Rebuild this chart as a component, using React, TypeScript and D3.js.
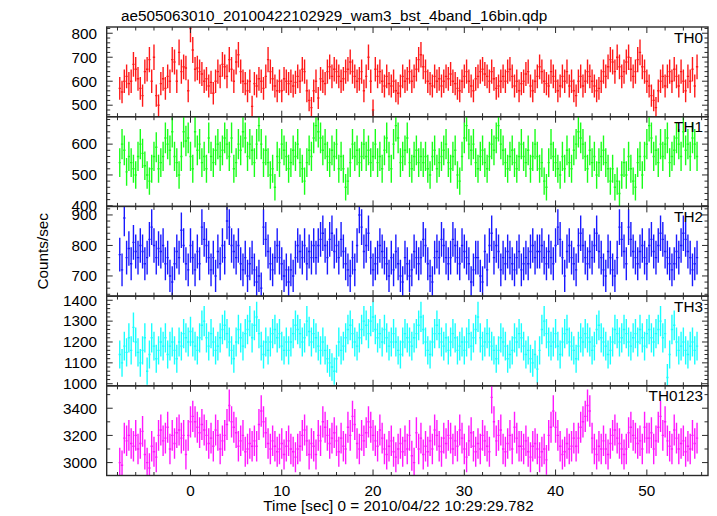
import React from "react";
import * as d3 from "d3";

const TITLE = "ae505063010_20100422102929_wam3_bst_4band_16bin.qdp";
const X_LABEL = "Time [sec] 0 = 2010/04/22 10:29:29.782";
const Y_LABEL = "Counts/sec";
const BIN = 0.25; // seconds per bin
const T_FIRST = -7.75; // centre of first bin (s)

const PANEL_NAMES = ["TH0", "TH1", "TH2", "TH3", "TH0123"];
const PANEL_COLORS = ["#ff0000", "#00ff00", "#0000ff", "#00ffff", "#ff00ff"];
const X_DOMAIN: [number, number] = [-9.18, 56.7];
const X_MAJOR = [0, 10, 20, 30, 40, 50];
const X_MINOR_STEP = 2;

const Y_DOMAINS: [number, number][] = [
  [452, 826],
  [398, 689],
  [634, 928],
  [990, 1420],
  [2905, 3565],
];
const Y_MAJOR: number[][] = [
  [500, 600, 700, 800],
  [400, 500, 600],
  [700, 800, 900],
  [1000, 1100, 1200, 1300, 1400],
  [3000, 3200, 3400],
];
const Y_MINOR_STEP = [20, 20, 20, 20, 100];

const th0 = [
  570, 555, 600, 620, 590, 600, 670, 650, 610, 570, 540, 640, 650, 690, 600, 700,
  540, 500, 590, 610, 570, 620, 600, 690, 680, 600, 720, 640, 660, 655, 560, 820,
  730, 650, 655, 640, 630, 600, 610, 580, 595, 550, 600, 640, 620, 670, 660, 620,
  690, 650, 600, 680, 710, 640, 600, 590, 560, 600, 495, 590, 580, 610, 600, 570,
  620, 690, 640, 610, 580, 560, 600, 560, 610, 600, 590, 600, 580, 595, 620, 600,
  650, 640, 560, 520, 490, 560, 600, 530, 610, 600, 590, 640, 660, 620, 650, 640,
  620, 600, 610, 640, 650, 680, 640, 620, 600, 610, 640, 560, 620, 700, 600, 480,
  650, 620, 640, 600, 580, 620, 590, 580, 600, 560, 550, 580, 620, 600, 610, 640,
  600, 620, 650, 690, 710, 660, 640, 600, 590, 580, 620, 600, 610, 580, 600, 620,
  610, 630, 600, 590, 570, 560, 600, 620, 640, 600, 580, 560, 610, 620, 640, 650,
  630, 620, 600, 640, 610, 570, 580, 600, 620, 600, 640, 650, 620, 580, 600, 560,
  590, 600, 630, 640, 580, 560, 600, 620, 660, 640, 600, 590, 580, 640, 620, 600,
  560, 580, 620, 600, 640, 580, 600, 560, 540, 600, 620, 580, 600, 640, 620, 600,
  580, 560, 570, 600, 640, 620, 660, 690, 680, 640, 700, 660, 620, 640, 680, 700,
  650, 620, 640, 690, 720, 660, 640, 600, 580, 540, 520, 490, 560, 600, 620, 580,
  620, 640, 600, 650, 620, 580, 640, 600, 560, 620, 600, 650, 580, 660,
];

const th1 = [
  540, 600, 580, 510, 560, 540, 520, 500, 560, 600, 570, 530, 500, 480, 520, 560,
  590, 520, 540, 560, 620, 600, 580, 640, 560, 540, 500, 560, 640, 610, 620, 560,
  520, 640, 580, 600, 540, 560, 520, 620, 560, 540, 580, 600, 560, 580, 620, 600,
  560, 620, 520, 540, 600, 580, 640, 620, 560, 600, 580, 540, 600, 660, 600, 540,
  580, 540, 500, 520, 460, 560, 540, 600, 580, 560, 520, 540, 580, 560, 600, 540,
  520, 480, 540, 580, 560, 620, 660, 640, 620, 580, 600, 560, 540, 580, 560, 600,
  520, 560, 520, 460, 480, 540, 600, 560, 580, 540, 560, 600, 560, 580, 540, 560,
  600, 540, 560, 520, 580, 620, 560, 520, 600, 660, 620, 540, 560, 580, 620, 540,
  520, 560, 580, 540, 560, 540, 560, 520, 500, 560, 580, 520, 540, 560, 580, 600,
  540, 520, 560, 580, 500, 480, 560, 620, 660, 600, 580, 600, 540, 520, 560, 580,
  540, 520, 560, 600, 580, 620, 660, 600, 580, 540, 520, 560, 580, 540, 520, 560,
  600, 560, 540, 580, 520, 560, 600, 560, 520, 540, 480, 460, 540, 600, 560, 540,
  520, 500, 560, 520, 580, 540, 520, 580, 600, 640, 620, 600, 560, 520, 580, 540,
  560, 500, 540, 560, 580, 540, 520, 480, 520, 460, 480, 440, 500, 540, 500, 560,
  520, 480, 460, 540, 560, 500, 560, 600, 660, 620, 560, 580, 540, 600, 560, 600,
  620, 540, 560, 580, 620, 600, 560, 640, 580, 600, 560, 620, 600, 560,
];

const th2 = [
  770, 720, 890, 760, 790, 740, 810, 780, 760, 800, 780, 740, 760, 820, 860, 800,
  760, 790, 780, 800, 740, 760, 700, 680, 740, 780, 760, 850, 800, 740, 720, 800,
  760, 720, 780, 740, 860, 820, 800, 760, 720, 760, 700, 780, 740, 800, 760, 880,
  860, 800, 780, 760, 800, 740, 720, 760, 700, 740, 760, 720, 680, 700, 660, 860,
  820, 780, 740, 720, 760, 800, 760, 740, 700, 720, 680, 720, 700, 760, 800, 780,
  760, 800, 740, 780, 760, 800, 760, 800, 820, 840, 800, 760, 820, 840, 780, 800,
  760, 820, 780, 740, 720, 700, 760, 720, 800, 900, 860, 780, 800, 840, 760, 720,
  740, 760, 800, 780, 760, 740, 700, 760, 720, 780, 740, 700, 680, 760, 740, 700,
  720, 780, 760, 740, 760, 820, 800, 740, 700, 680, 760, 780, 760, 820, 800, 760,
  740, 760, 820, 800, 760, 740, 800, 780, 760, 740, 680, 720, 760, 760, 700, 680,
  780, 720, 800, 840, 760, 800, 780, 720, 760, 740, 780, 760, 740, 720, 760, 780,
  720, 740, 760, 740, 780, 800, 760, 780, 780, 800, 760, 740, 780, 760, 740, 800,
  860, 820, 760, 700, 780, 800, 760, 740, 720, 800, 840, 800, 760, 740, 780, 760,
  800, 840, 780, 760, 720, 700, 780, 760, 720, 700, 760, 860, 820, 780, 740, 860,
  820, 780, 760, 740, 780, 800, 760, 740, 800, 820, 780, 760, 800, 840, 820, 780,
  760, 740, 720, 740, 780, 760, 800, 840, 820, 780, 760, 720, 740, 760,
];

const th3 = [
  1140, 1100, 1180, 1150, 1220, 1160, 1270, 1200, 1150, 1100, 1160, 1220, 1060, 1140, 1220, 1180,
  1120, 1160, 1200, 1180, 1220, 1140, 1180, 1200, 1160, 1120, 1200, 1180, 1240, 1220, 1200, 1250,
  1200, 1180, 1160, 1220, 1280, 1300, 1220, 1180, 1240, 1200, 1160, 1180, 1220, 1260, 1280, 1240,
  1200, 1160, 1120, 1200, 1260, 1220, 1180, 1240, 1260, 1300, 1220, 1280, 1320, 1240, 1180, 1140,
  1200, 1160, 1200, 1240, 1260, 1220, 1240, 1180, 1160, 1200, 1160, 1200, 1240, 1280, 1260, 1240,
  1200, 1220, 1300, 1250, 1200, 1240, 1220, 1180, 1160, 1200, 1160, 1120, 1100, 1080, 1060, 1120,
  1200, 1160, 1180, 1220, 1260, 1280, 1240, 1200, 1180, 1220, 1260, 1300, 1280, 1240, 1300, 1320,
  1260, 1220, 1240, 1200, 1260, 1220, 1180, 1200, 1240, 1200, 1160, 1140, 1200, 1240, 1220, 1200,
  1180, 1220, 1240, 1280, 1320, 1260, 1200, 1160, 1140, 1200, 1240, 1280, 1240, 1200, 1180, 1220,
  1160, 1200, 1240, 1220, 1160, 1180, 1200, 1160, 1200, 1240, 1180, 1220, 1260, 1320, 1220, 1180,
  1200, 1240, 1200, 1180, 1160, 1120, 1160, 1220, 1200, 1180, 1120, 1140, 1160, 1220, 1200, 1240,
  1220, 1180, 1140, 1160, 1120, 1100, 1140, 1070, 1160, 1260, 1300, 1240, 1200, 1180, 1200, 1240,
  1180, 1140, 1200, 1240, 1260, 1200, 1180, 1160, 1120, 1180, 1220, 1200, 1240, 1220, 1200, 1160,
  1180, 1260, 1280, 1220, 1200, 1180, 1140, 1160, 1200, 1260, 1240, 1200, 1220, 1260, 1240, 1200,
  1180, 1220, 1240, 1200, 1260, 1220, 1180, 1240, 1260, 1220, 1200, 1240, 1260, 1300, 1220, 1240,
  1030, 1140, 1260, 1280, 1200, 1160, 1180, 1200, 1160, 1140, 1180, 1200, 1160, 1180,
];

const th0123 = [
  3000, 2980, 3180, 3160, 3200, 3140, 3120, 3200, 3100, 3140, 3230, 3060, 3000, 2960, 3120, 3080,
  3040, 3200, 3240, 3160, 3180, 3260, 3100, 3200, 3140, 3220, 3240, 3180, 3200, 3060, 3200, 3300,
  3340, 3300, 3260, 3220, 3280, 3240, 3200, 3140, 3180, 3120, 3240, 3200, 3100, 3160, 3200, 3280,
  3420, 3300, 3260, 3220, 3120, 3160, 3200, 3080, 3100, 3140, 3120, 3160, 3120, 3280, 3380, 3300,
  3220, 3140, 3100, 3160, 3120, 3080, 3100, 3140, 3060, 3120, 3160, 3100, 3080, 3040, 3100, 3120,
  3200, 3240, 3160, 3060, 3140, 3120, 3060, 3200, 3160, 3300, 3260, 3200, 3140, 3180, 3220, 3160,
  3080, 3180, 3120, 3100, 3260, 3200, 3340, 3280, 3140, 3100, 3200, 3160, 3220, 3300, 3260, 3200,
  3160, 3120, 3240, 3180, 3100, 3060, 3120, 3160, 3080, 3040, 3100, 3140, 3080, 3160, 3100, 3200,
  3050, 3000, 3220, 3100, 3180, 3060, 3120, 3080, 3160, 3100, 3240, 3200, 3120, 3080, 3180, 3140,
  3200, 3180, 3100, 3160, 3120, 3240, 3180, 3100, 3040, 3160, 3220, 3120, 3080, 3140, 3100, 3200,
  3160, 3120, 3080, 3480, 3300, 3160, 3200, 3240, 3100, 3080, 3140, 3200, 3100, 3260, 3180, 3120,
  3120, 3100, 3160, 3080, 3040, 3120, 3140, 3100, 3040, 3080, 3100, 3020, 3200, 3260, 3380, 3260,
  3200, 3120, 3060, 3080, 3140, 3100, 3120, 3180, 3120, 3180, 3260, 3300, 3340, 3420, 3380, 3180,
  3100, 3060, 3120, 3100, 3160, 3100, 3060, 3140, 3200, 3240, 3180, 3140, 3100, 3060, 3100, 3220,
  3260, 3200, 3180, 3140, 3160, 3100, 3260, 3180, 3180, 3220, 3100, 3160, 3260, 3340, 3200, 3300,
  3160, 3120, 3100, 3240, 3180, 3100, 3140, 3160, 3080, 3120, 3100, 3200, 3140, 3180,
];

const SERIES = [th0, th1, th2, th3, th0123];

const W = 717;
const H = 516;
const LEFT = 106.7;
const RIGHT = 708;
const TOP = 27;
const BOTTOM = 475.5;
const FONT = "'Liberation Sans', Helvetica, Arial, sans-serif";
const FRAME = "#2a2a2a";

export default function App() {
  const x = d3.scaleLinear().domain(X_DOMAIN).range([LEFT, RIGHT]);
  const panelH = (BOTTOM - TOP) / SERIES.length;
  const xMinor = d3.range(Math.ceil(X_DOMAIN[0] / X_MINOR_STEP) * X_MINOR_STEP, X_DOMAIN[1], X_MINOR_STEP);

  return (
    <svg
      width={W}
      height={H}
      viewBox={`0 0 ${W} ${H}`}
      style={{ position: "absolute", left: 0, top: 0, background: "#fff" }}
      fontFamily={FONT}
    >
      <rect x={0} y={0} width={W} height={H} fill="#fff" />
      <text x={121} y={20.5} fontSize={15.3} fill="#000">{TITLE}</text>
      {SERIES.map((vals, i) => {
        const top = TOP + i * panelH;
        const bot = top + panelH;
        const y = d3.scaleLinear().domain(Y_DOMAINS[i]).range([bot, top]);
        let d = "";
        vals.forEach((v, k) => {
          const t = T_FIRST + k * BIN;
          const e = Math.sqrt(v / BIN);
          const xc = x(t);
          const x0 = x(t - BIN / 2);
          const x1 = x(t + BIN / 2);
          const yv = y(v);
          d += `M${x0},${yv}L${x1},${yv}M${xc},${y(v - e)}L${xc},${y(v + e)}`;
        });
        const [y0, y1] = Y_DOMAINS[i];
        const yMinorStep = Y_MINOR_STEP[i];
        const yMinor = d3.range(Math.ceil(y0 / yMinorStep) * yMinorStep, y1, yMinorStep);
        const clipId = `clip${i}`;
        return (
          <g key={i}>
            <clipPath id={clipId}>
              <rect x={LEFT} y={top} width={RIGHT - LEFT} height={panelH} />
            </clipPath>
            <path d={d} stroke={PANEL_COLORS[i]} strokeWidth={1.4} fill="none" clipPath={`url(#${clipId})`} strokeOpacity={0.9} />
            {xMinor.map((t) => {
              const major = X_MAJOR.includes(t);
              const len = major ? 6 : 3.5;
              return (
                <g key={`xt${t}`} stroke={FRAME} strokeWidth={1}>
                  <line x1={x(t)} x2={x(t)} y1={top} y2={top + len} />
                  <line x1={x(t)} x2={x(t)} y1={bot} y2={bot - len} />
                </g>
              );
            })}
            {yMinor.map((v) => {
              const major = Y_MAJOR[i].includes(v);
              const len = major ? 6 : 3.5;
              return (
                <g key={`yt${v}`} stroke={FRAME} strokeWidth={1}>
                  <line x1={LEFT} x2={LEFT + len} y1={y(v)} y2={y(v)} />
                  <line x1={RIGHT} x2={RIGHT - len} y1={y(v)} y2={y(v)} />
                </g>
              );
            })}
            {Y_MAJOR[i].map((v) => (
              <text key={`yl${v}`} x={97} y={y(v) + 5.3} fontSize={15.3} textAnchor="end" fill="#000">
                {v}
              </text>
            ))}
            <rect x={LEFT} y={top} width={RIGHT - LEFT} height={panelH} fill="none" stroke={FRAME} strokeWidth={1.4} />
            <text x={703} y={top + 15.5} fontSize={15.3} textAnchor="end" fill="#000">
              {PANEL_NAMES[i]}
            </text>
          </g>
        );
      })}
      {X_MAJOR.map((t) => (
        <text key={`xl${t}`} x={x(t)} y={495.5} fontSize={15.3} textAnchor="middle" fill="#000">
          {t}
        </text>
      ))}
      <text x={398.5} y={511} fontSize={15.3} textAnchor="middle" fill="#000">{X_LABEL}</text>
      <text
        x={0}
        y={0}
        fontSize={15.3}
        textAnchor="middle"
        fill="#000"
        transform={`translate(47.5,${(TOP + BOTTOM) / 2}) rotate(-90)`}
      >
        {Y_LABEL}
      </text>
    </svg>
  );
}
